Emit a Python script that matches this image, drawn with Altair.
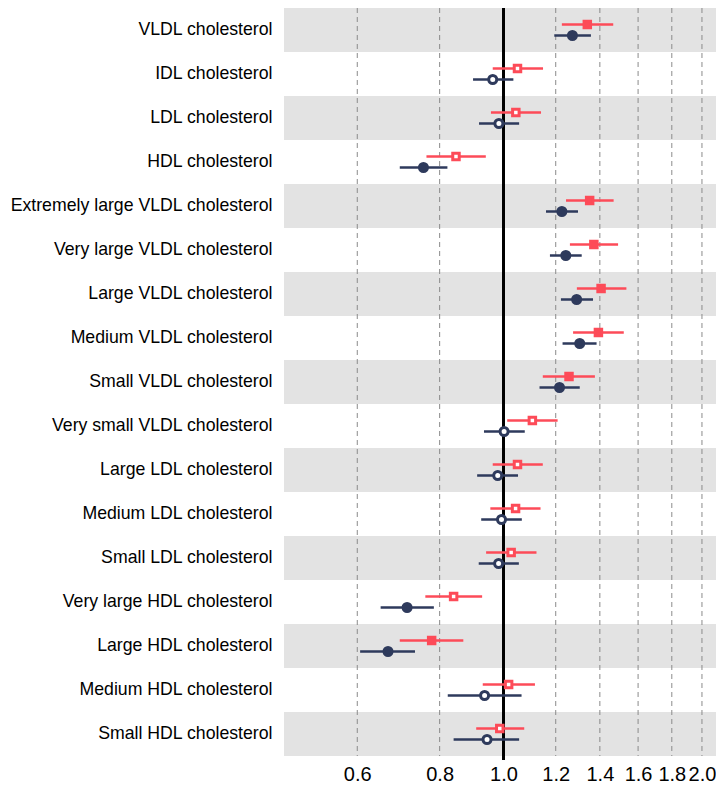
import altair as alt
import pandas as pd

labels = [
    "VLDL cholesterol", "IDL cholesterol", "LDL cholesterol", "HDL cholesterol",
    "Extremely large VLDL cholesterol", "Very large VLDL cholesterol",
    "Large VLDL cholesterol", "Medium VLDL cholesterol", "Small VLDL cholesterol",
    "Very small VLDL cholesterol", "Large LDL cholesterol", "Medium LDL cholesterol",
    "Small LDL cholesterol", "Very large HDL cholesterol", "Large HDL cholesterol",
    "Medium HDL cholesterol", "Small HDL cholesterol",
]
red_est = [1.340, 1.050, 1.044, 0.847, 1.351, 1.371, 1.406, 1.393, 1.257, 1.106, 1.050, 1.043, 1.027, 0.840, 0.778, 1.018, 0.987]
red_lo = [1.226, 0.963, 0.957, 0.764, 1.244, 1.261, 1.292, 1.275, 1.147, 1.013, 0.963, 0.955, 0.941, 0.761, 0.696, 0.930, 0.909]
red_hi = [1.467, 1.148, 1.140, 0.940, 1.469, 1.492, 1.536, 1.522, 1.376, 1.208, 1.147, 1.138, 1.122, 0.928, 0.869, 1.116, 1.075]
red_sig = [1, 0, 0, 0, 1, 1, 1, 1, 1, 0, 0, 0, 0, 0, 1, 0, 0]
navy_est = [1.272, 0.963, 0.984, 0.756, 1.226, 1.243, 1.291, 1.305, 1.216, 1.002, 0.980, 0.993, 0.983, 0.714, 0.668, 0.936, 0.944]
navy_lo = [1.194, 0.899, 0.918, 0.696, 1.160, 1.176, 1.222, 1.229, 1.134, 0.934, 0.912, 0.925, 0.917, 0.651, 0.606, 0.823, 0.840]
navy_hi = [1.357, 1.035, 1.056, 0.822, 1.297, 1.314, 1.367, 1.384, 1.305, 1.077, 1.052, 1.066, 1.055, 0.784, 0.734, 1.065, 1.056]
navy_sig = [1, 0, 0, 1, 1, 1, 1, 1, 1, 0, 0, 0, 0, 1, 1, 0, 0]
tick_values = [0.6, 0.8, 1.0, 1.2, 1.4, 1.6, 1.8, 2.0]

RED = "#fd4b58"
NAVY = "#2e3a5c"
W, H = 424, 748
FONT = "Liberation Sans"

red_df = pd.DataFrame({"label": labels, "est": red_est, "lo": red_lo, "hi": red_hi, "sig": red_sig})
navy_df = pd.DataFrame({"label": labels, "est": navy_est, "lo": navy_lo, "hi": navy_hi, "sig": navy_sig})
band_df = pd.DataFrame({"label": labels[::2]})
tick_df = pd.DataFrame({"t": tick_values})

xscale = alt.Scale(type="log", domain=[0.4645, 2.0426], nice=False, zero=False)
yscale = alt.Scale(domain=labels, paddingInner=0, paddingOuter=0)

yenc = alt.Y("label:N", scale=yscale, sort=labels,
             axis=alt.Axis(title=None, labelFontSize=17.7, labelPadding=12, domain=False,
                           ticks=False, labelColor="black", labelFont=FONT, labelLimit=400))

bands = alt.Chart(band_df).mark_rect(color="#e3e3e3").encode(
    y=yenc, x=alt.value(0), x2=alt.value(W + 8)
)

grid = alt.Chart(tick_df).mark_rule(color="#8a8a8a", strokeWidth=1, strokeDash=[5, 4]).encode(
    x=alt.X("t:Q", scale=xscale,
            axis=alt.Axis(title=None, values=tick_values, format=".1f", labelFontSize=20,
                          labelFont=FONT, labelColor="black", domain=False, ticks=False,
                          tickSize=0, grid=False, labelPadding=8, labelOverlap=False)),
    y=alt.value(0), y2=alt.value(H)
)

ref = alt.Chart(tick_df).mark_rule(color="black", strokeWidth=2).encode(
    x=alt.datum(1.0, scale=xscale), y=alt.value(-4), y2=alt.value(H + 4)
)

def series(df, color, shape, size, off):
    bars = alt.Chart(df).mark_rule(color=color, strokeWidth=2.5, yOffset=off).encode(
        y=alt.Y("label:N", scale=yscale, sort=labels), x=alt.X("lo:Q", scale=xscale), x2="hi:Q"
    )
    pts = alt.Chart(df).mark_point(shape=shape, size=size, filled=True, stroke=color,
                                   strokeWidth=3, opacity=1, yOffset=off).encode(
        y=alt.Y("label:N", scale=yscale, sort=labels), x=alt.X("est:Q", scale=xscale),
        fill=alt.condition("datum.sig == 1", alt.value(color), alt.value("white"))
    )
    return bars + pts

chart = alt.layer(
    bands, grid, ref,
    series(red_df, RED, "square", 42, -5.5),
    series(navy_df, NAVY, "circle", 64, 5.5),
).properties(
    width=W, height=H,
    autosize=alt.AutoSizeParams(type="none"),
    padding={"left": 276, "top": 0, "right": 8, "bottom": 28},
).configure_view(stroke=None)

chart.save("out.html", embed_options={"renderer": "svg", "actions": False})
